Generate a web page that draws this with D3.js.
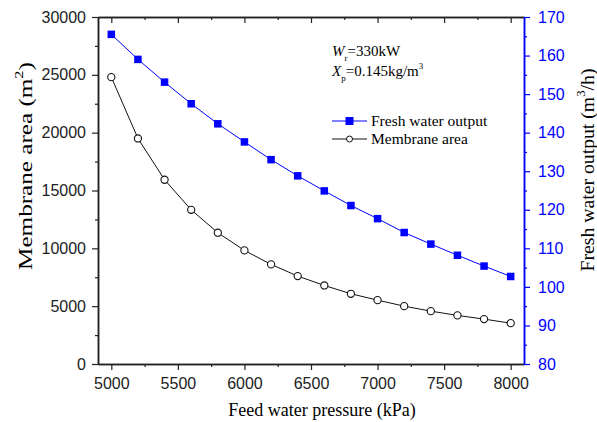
<!DOCTYPE html>
<html>
<head>
<meta charset="utf-8">
<script src="https://cdn.jsdelivr.net/npm/d3@7"></script>
<style>
  body { margin: 0; background: #fff; }
  svg text { font-family: "Liberation Sans", Arial, sans-serif; }
  svg text.serif { font-family: "Liberation Serif", "Times New Roman", serif; }
</style>
</head>
<body>
<div id="chart"></div>
<script>
// Feed water pressure (kPa)
const pressure = [5000, 5200, 5400, 5600, 5800, 6000, 6200, 6400, 6600, 6800, 7000, 7200, 7400, 7600, 7800, 8000];
// Fresh water output (m3/h), right axis
const freshWater = [165.5, 159.0, 153.1, 147.5, 142.3, 137.6, 133.0, 128.8, 124.9, 121.1, 117.7, 114.1, 111.1, 108.2, 105.4, 102.7];
// Membrane area (m2), left axis
const membraneArea = [24800, 19500, 15930, 13330, 11350, 9820, 8610, 7600, 6790, 6070, 5520, 5000, 4570, 4200, 3880, 3530];

const xTicks = [5000, 5500, 6000, 6500, 7000, 7500, 8000];
const leftTicks = [0, 5000, 10000, 15000, 20000, 25000, 30000];
const rightTicks = [80, 90, 100, 110, 120, 130, 140, 150, 160, 170];

const width = 597, height = 422;
const margin = { left: 98, right: 73, top: 17, bottom: 58 };
const blue = '#0000ff';

const svg = d3.select('#chart').append('svg')
    .attr('width', width)
    .attr('height', height);

const x = d3.scaleLinear().domain([4900, 8100]).range([margin.left, width - margin.right]);
const yL = d3.scaleLinear().domain([0, 30000]).range([height - margin.bottom, margin.top]);
const yR = d3.scaleLinear().domain([80, 170]).range([height - margin.bottom, margin.top]);

const bottom = height - margin.bottom;
const right = width - margin.right;

// bottom axis, major + minor
svg.append('g').attr('transform', `translate(0,${bottom})`)
    .call(d3.axisBottom(x).tickValues(xTicks).tickSize(6).tickSizeOuter(0).tickPadding(8).tickFormat(d3.format('d')));
svg.append('g').attr('transform', `translate(0,${bottom})`)
    .call(d3.axisBottom(x).tickValues(d3.range(5250, 8100, 500)).tickSize(3).tickSizeOuter(0).tickFormat(''));

// top axis (ticks pointing inward)
svg.append('g').attr('transform', `translate(0,${margin.top})`)
    .call(d3.axisBottom(x).tickValues(xTicks).tickSize(6).tickSizeOuter(0).tickFormat(''));
svg.append('g').attr('transform', `translate(0,${margin.top})`)
    .call(d3.axisBottom(x).tickValues(d3.range(5250, 8100, 500)).tickSize(3).tickSizeOuter(0).tickFormat(''));

// left axis
svg.append('g').attr('transform', `translate(${margin.left},0)`)
    .call(d3.axisLeft(yL).tickValues(leftTicks).tickSize(6).tickSizeOuter(0).tickPadding(6).tickFormat(d3.format('d')));
svg.append('g').attr('transform', `translate(${margin.left},0)`)
    .call(d3.axisLeft(yL).tickValues(d3.range(2500, 30000, 5000)).tickSize(3).tickSizeOuter(0).tickFormat(''));

// right axis
svg.append('g').attr('class', 'raxis').attr('transform', `translate(${right},0)`)
    .call(d3.axisRight(yR).tickValues(rightTicks).tickSize(6).tickSizeOuter(0).tickPadding(8));
svg.append('g').attr('class', 'raxis').attr('transform', `translate(${right},0)`)
    .call(d3.axisRight(yR).tickValues(d3.range(85, 170, 10)).tickSize(3).tickSizeOuter(0).tickFormat(''));

svg.selectAll('.domain').attr('stroke', '#222').attr('stroke-width', 1.5);
svg.selectAll('.tick line').attr('stroke', '#222').attr('stroke-width', 1.2);
svg.selectAll('.tick text').attr('font-size', '16px').attr('fill', '#222')
    .style('font-family', '"Liberation Sans", Arial, sans-serif');
svg.selectAll('.raxis .domain, .raxis .tick line').attr('stroke', blue);
svg.selectAll('.raxis .tick text').attr('fill', blue);

// lines
const lineArea = d3.line().x((d, i) => x(pressure[i])).y(d => yL(d));
const lineFresh = d3.line().x((d, i) => x(pressure[i])).y(d => yR(d));

svg.append('path').datum(membraneArea)
    .attr('d', lineArea).attr('fill', 'none').attr('stroke', '#111').attr('stroke-width', 1);
svg.selectAll('.area-pt').data(membraneArea).enter().append('circle')
    .attr('cx', (d, i) => x(pressure[i])).attr('cy', d => yL(d)).attr('r', 3.6)
    .attr('fill', '#fff').attr('stroke', '#111').attr('stroke-width', 1.1);

svg.append('path').datum(freshWater)
    .attr('d', lineFresh).attr('fill', 'none').attr('stroke', blue).attr('stroke-width', 1);
svg.selectAll('.fresh-pt').data(freshWater).enter().append('rect')
    .attr('x', (d, i) => x(pressure[i]) - 3.75).attr('y', d => yR(d) - 3.75)
    .attr('width', 7.5).attr('height', 7.5).attr('fill', blue);

// legend
const lx = 332, ly1 = 121, ly2 = 139;
svg.append('line').attr('x1', lx).attr('x2', lx + 35).attr('y1', ly1).attr('y2', ly1).attr('stroke', blue);
svg.append('rect').attr('x', lx + 13.5).attr('y', ly1 - 4).attr('width', 8).attr('height', 8).attr('fill', blue);
svg.append('text').attr('class', 'serif').attr('x', lx + 39).attr('y', ly1 + 5).attr('font-size', '15.5px').text('Fresh water output');
svg.append('line').attr('x1', lx).attr('x2', lx + 35).attr('y1', ly2).attr('y2', ly2).attr('stroke', '#111');
svg.append('circle').attr('cx', lx + 17.5).attr('cy', ly2).attr('r', 3).attr('fill', '#fff').attr('stroke', '#111');
svg.append('text').attr('class', 'serif').attr('x', lx + 39).attr('y', ly2 + 5).attr('font-size', '15.5px').text('Membrane area');

// annotations
const t1 = svg.append('text').attr('class', 'serif').attr('x', 332).attr('y', 56).attr('font-size', '15px');
t1.append('tspan').attr('font-style', 'italic').text('W');
t1.append('tspan').attr('font-size', '9px').attr('dy', 5).text('r');
t1.append('tspan').attr('dy', -5).text('=330kW');
const t2 = svg.append('text').attr('class', 'serif').attr('x', 332).attr('y', 76).attr('font-size', '15px');
t2.append('tspan').attr('font-style', 'italic').text('X');
t2.append('tspan').attr('font-size', '9px').attr('dy', 5).text('p');
t2.append('tspan').attr('dy', -5).text('=0.145kg/m');
t2.append('tspan').attr('font-size', '9px').attr('dy', -7).text('3');

// axis titles
svg.append('text').attr('class', 'serif').attr('x', 322).attr('y', 416)
    .attr('text-anchor', 'middle').attr('font-size', '18px').text('Feed water pressure (kPa)');

// vertical titles are stretched along the text in the original figure
function verticalTitle(cx, cy, size, target, parts) {
    const g = svg.append('g').attr('transform', `translate(${cx},${cy}) rotate(-90)`);
    const t = g.append('text').attr('class', 'serif').attr('text-anchor', 'middle').attr('font-size', size + 'px');
    parts.forEach(p => {
        const s = t.append('tspan').text(p.text);
        if (p.sup) s.attr('font-size', (size * 0.65) + 'px').attr('dy', -size * 0.45);
        if (p.after) s.attr('dy', size * 0.45);
    });
    const w = t.node().getBBox().width;
    t.attr('transform', `scale(${target / w},1)`);
}

verticalTitle(32, 166, 19, 208, [
    { text: 'Membrane area (m' }, { text: '2', sup: true }, { text: ')', after: true }
]);
verticalTitle(594, 170, 19, 203, [
    { text: 'Fresh water output (m' }, { text: '3', sup: true }, { text: '/h)', after: true }
]);
</script>
</body>
</html>
